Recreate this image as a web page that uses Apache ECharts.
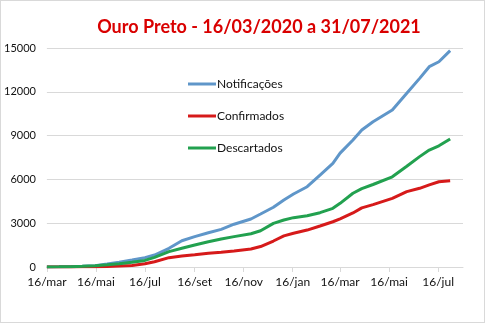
<!DOCTYPE html>
<html>
<head>
<meta charset="utf-8">
<script src="https://cdn.jsdelivr.net/npm/echarts@6/dist/echarts.min.js"></script>
<style>
  html, body { margin: 0; padding: 0; background: #fff; }
  #frame { position: absolute; left: 0; top: 0; width: 483px; height: 321px; border: 1px solid #d9d9d9; }
  #chart { width: 483px; height: 321px; }
</style>
</head>
<body>
<div id="frame"><div id="chart"></div></div>
<script>
// Daily bulletin readings, Ouro Preto (accumulated counts)
const dates = [
  '2020-03-16','2020-03-31','2020-04-15','2020-04-29','2020-05-15','2020-05-30',
  '2020-06-14','2020-06-30','2020-07-16','2020-07-28','2020-08-15','2020-08-31',
  '2020-09-16','2020-10-03','2020-10-19','2020-11-04','2020-11-25','2020-12-07',
  '2020-12-23','2021-01-05','2021-01-17','2021-02-03','2021-02-19','2021-03-07',
  '2021-03-16','2021-04-01','2021-04-12','2021-04-26','2021-05-20','2021-06-07',
  '2021-06-23','2021-07-05','2021-07-17','2021-07-31'
];
const notificacoes = [
  0, 12, 28, 50, 90, 200,
  330, 480, 640, 820, 1280, 1800,
  2080, 2350, 2580, 2930, 3290, 3630,
  4090, 4590, 5000, 5500, 6300, 7100,
  7800, 8700, 9380, 9950, 10750, 11900,
  12920, 13720, 14060, 14820
];
const confirmados = [
  0, 2, 5, 10, 20, 40,
  70, 110, 220, 360, 640, 750,
  840, 940, 1010, 1100, 1230, 1400,
  1780, 2130, 2310, 2530, 2810, 3100,
  3300, 3700, 4050, 4270, 4700, 5160,
  5390, 5620, 5840, 5910
];
const descartados = [
  0, 10, 25, 45, 80, 150,
  230, 330, 450, 660, 1050, 1280,
  1510, 1730, 1920, 2080, 2280, 2480,
  2990, 3220, 3380, 3510, 3720, 4020,
  4360, 5050, 5370, 5650, 6180, 6900,
  7560, 8010, 8300, 8770
];

// x-axis tick positions and their labels
const tickDates = ['2020-03-16','2020-05-16','2020-07-16','2020-09-16','2020-11-16',
                   '2021-01-16','2021-03-16','2021-05-16','2021-07-16'];
const tickLabels = ['16/mar','16/mai','16/jul','16/set','16/nov','16/jan','16/mar','16/mai','16/jul'];
const axisEnd = '2021-08-16';

const startMs = Date.UTC(2020, 2, 16);
function dayIndex(s) {
  const p = s.split('-').map(Number);
  return Math.round((Date.UTC(p[0], p[1] - 1, p[2]) - startMs) / 86400000);
}
const tickDays = tickDates.map(dayIndex);
const labelByDay = {};
tickDays.forEach((d, i) => { labelByDay[d] = tickLabels[i]; });

const pairs = vals => vals.map((v, i) => [dayIndex(dates[i]), v]);

const font = 'Lato, "Open Sans", sans-serif';
const chart = echarts.init(document.getElementById('chart'), null, { renderer: 'canvas' });

function lineSeries(name, vals, color) {
  return {
    name: name,
    type: 'line',
    data: pairs(vals),
    showSymbol: false,
    smooth: false,
    lineStyle: { color: color, width: 3 },
    itemStyle: { color: color },
    emphasis: { disabled: true }
  };
}

chart.setOption({
  animation: false,
  title: {
    text: 'Ouro Preto - 16/03/2020 a 31/07/2021',
    left: 253,
    textAlign: 'center',
    top: 12,
    textStyle: { color: '#d90000', fontSize: 18, fontWeight: 'bold', fontFamily: font }
  },
  legend: {
    orient: 'vertical',
    left: 182,
    top: 71,
    itemWidth: 28,
    itemHeight: 3,
    itemGap: 18,
    icon: 'rect',
    textStyle: { color: '#111', fontSize: 12, fontFamily: font, lineHeight: 14, padding: [0, 0, 0, -4] },
    data: ['Notificações', 'Confirmados', 'Descartados']
  },
  grid: { left: 43, right: 21, top: 47, bottom: 55, containLabel: false },
  xAxis: {
    type: 'value',
    min: 0,
    max: dayIndex(axisEnd),
    axisLine: { show: true, lineStyle: { color: '#d9d9d9', width: 1 } },
    axisTick: { show: true, customValues: tickDays, length: 5, lineStyle: { color: '#d9d9d9' } },
    axisLabel: {
      customValues: tickDays,
      formatter: v => labelByDay[v] || '',
      color: '#111',
      fontSize: 12,
      fontFamily: font,
      margin: 9
    },
    splitLine: { show: false }
  },
  yAxis: {
    type: 'value',
    min: 0,
    max: 15000,
    interval: 3000,
    axisLine: { show: false },
    axisTick: { show: false },
    axisLabel: { color: '#111', fontSize: 11, fontFamily: font, margin: 11, formatter: v => String(v) },
    splitLine: { lineStyle: { color: '#d9d9d9', width: 1 } }
  },
  series: [
    lineSeries('Notificações', notificacoes, '#5f96c9'),
    lineSeries('Confirmados', confirmados, '#d61a1a'),
    lineSeries('Descartados', descartados, '#22a14f')
  ]
});
</script>
</body>
</html>
